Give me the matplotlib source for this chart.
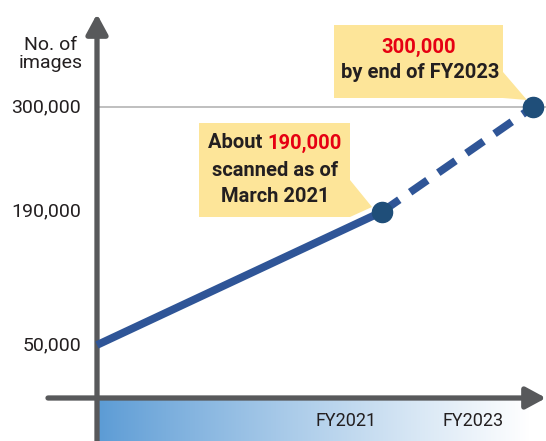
import matplotlib
matplotlib.use("Agg")
import matplotlib.pyplot as plt
import numpy as np
from matplotlib.patches import Polygon

# --- Data ---
# x positions: start of series, March 2021, end of FY2023
positions = [0.0, 1.0, 1.53]
images = [50000, 190000, 300000]
ytick_values = [50000, 190000, 300000]
ytick_labels = ["50,000", "190,000", "300,000"]
xtick_pos = [0.874, 1.32]
xtick_labels = ["FY2021", "FY2023"]

W, H = 546, 441
FONT = ["Roboto", "DejaVu Sans"]
TXT = "#231f20"
AXIS_GREY = "#58595b"
LINE_BLUE = "#2f5597"
DOT_BLUE = "#1f4e79"
BOX = "#fde599"
RED = "#e60012"

plt.rcParams["font.family"] = FONT


def px(x, y):
    # pixel (from top-left) -> figure fraction
    return (x / W, 1 - y / H)


fig = plt.figure(figsize=(W / 100, H / 100), dpi=100)
ax = fig.add_axes([0, 0, 1, 1])
ax.set_xlim(-0.3404, 1.5754)
ax.set_ylim(-50840, 412395)
ax.axis("off")

# --- gradient band under the x axis ---
grad = np.linspace(0, 1, 256) ** 0.9
c0 = np.array([91, 155, 213]) / 255
c1 = np.array([1.0, 1.0, 1.0])
img = (c0[None, :] * (1 - grad[:, None]) + c1[None, :] * grad[:, None])[None, :, :]
ax.imshow(img, extent=[97 / W, 530 / W, 0, 1 - 400 / H], transform=ax.transAxes,
          aspect="auto", zorder=0)

# --- reference line at target ---
ax.axhline(ytick_values[-1], xmin=97 / W, xmax=1, color="#b4b4b4", lw=1.2, zorder=1)

# --- axes arrows ---
arrow = dict(arrowstyle="-|>,head_length=1.2,head_width=0.65", color=AXIS_GREY,
             lw=3.8, mutation_scale=10, shrinkA=0, shrinkB=0)
ax.annotate("", xy=px(97, 14), xytext=px(97, 441), xycoords="figure fraction",
            textcoords="figure fraction", arrowprops=arrow, zorder=3)
ax.annotate("", xy=px(546, 398), xytext=px(48, 398), xycoords="figure fraction",
            textcoords="figure fraction", arrowprops=arrow, zorder=3)

# --- series ---
ax.plot(positions[:2], images[:2], color=LINE_BLUE, lw=5.6, solid_capstyle="butt", zorder=4)
ax.plot(positions[1:], images[1:], color=LINE_BLUE, lw=5.6, ls=(0, (2.7, 1.7)),
        dash_capstyle="butt", zorder=4)
ax.plot(positions[1:], images[1:], "o", color=DOT_BLUE, ms=14.5, zorder=5)

# --- tick labels ---
ytr = ax.get_yaxis_transform()
for v, lab in zip(ytick_values, ytick_labels):
    ax.text(81 / W, v, lab, transform=ytr, ha="right", va="center", fontsize=14, color=TXT)
xtr = ax.get_xaxis_transform()
for p, lab in zip(xtick_pos, xtick_labels):
    ax.text(p, 1 - 421 / H, lab, transform=xtr, ha="center", va="center", fontsize=13, color=TXT)
fig.text(*px(51, 54), "No. of\nimages", ha="center", va="center", fontsize=14,
         color=TXT, linespacing=1.0)

# --- callouts ---
box1 = [(199, 123), (350, 123), (350, 180), (372, 207), (350, 217), (199, 217)]
box2 = [(334, 25), (503, 25), (503, 72), (527, 100), (503, 98), (334, 98)]
for b in (box1, box2):
    fig.patches.append(Polygon([px(x, y) for x, y in b], closed=True, facecolor=BOX,
                               edgecolor="none", transform=fig.transFigure, zorder=2))

bold = dict(fontsize=14.5, fontweight="bold", va="center")
t_about = fig.text(*px(0, 143), "About ", ha="left", color=TXT, **bold)
t_num = fig.text(*px(0, 143), "190,000", ha="left", color=RED, **bold)
r = fig.canvas.get_renderer()
w1 = t_about.get_window_extent(r).width
w2 = t_num.get_window_extent(r).width
x0 = 275 - (w1 + w2) / 2
t_about.set_position(px(x0, 143))
t_num.set_position(px(x0 + w1, 143))
fig.text(*px(275, 170), "scanned as of", ha="center", color=TXT, **bold)
fig.text(*px(275, 196), "March 2021", ha="center", color=TXT, **bold)
fig.text(*px(419, 47), "300,000", ha="center", color=RED, **bold)
fig.text(*px(420, 73), "by end of FY2023", ha="center", color=TXT, **bold)

fig.savefig("out.png", dpi=100)
